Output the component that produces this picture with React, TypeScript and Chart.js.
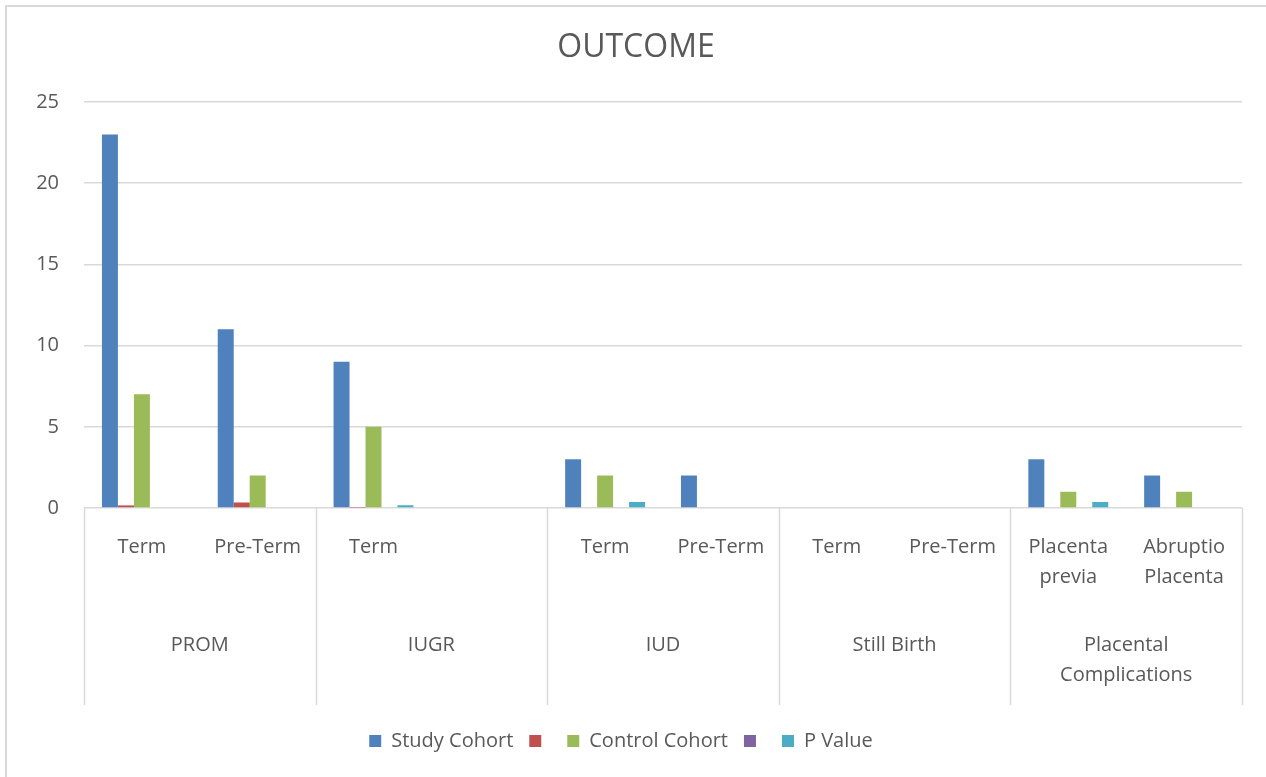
import React, { useEffect, useRef } from "react";
import { Chart, registerables } from "chart.js";

Chart.register(...registerables);

// Sub-categories along the x axis (two per outcome group)
const subCategories: (string | string[])[] = [
  "Term",
  "Pre-Term",
  "Term",
  "",
  "Term",
  "Pre-Term",
  "Term",
  "Pre-Term",
  ["Placenta", "previa"],
  ["Abruptio", "Placenta"],
];

// Outcome groups, each spanning two sub-categories
const groups: (string | string[])[] = [
  "PROM",
  "IUGR",
  "IUD",
  "Still Birth",
  ["Placental", "Complications"],
];

const studyCohort = [23, 11, 9, null, 3, 2, 0, 0, 3, 2];
const unnamedRed = [0.16, 0.34, 0.02, null, 0, 0, 0, 0, 0, 0];
const controlCohort = [7, 2, 5, null, 2, 0, 0, 0, 1, 1];
const unnamedPurple = [0, 0, 0, null, 0, 0, 0, 0, 0, 0];
const pValue = [0, 0, 0.17, null, 0.37, 0, 0, 0, 0.37, 0];

const yTicks = { min: 0, max: 25, step: 5 };
const chartTitle = "OUTCOME";

const TEXT = "#595959";
const GRID = "#d9d9d9";
const FONT = "'Open Sans', sans-serif";

// Outer frame, centred title and the vertical separators between outcome groups
const framePlugin = {
  id: "frameAndSeparators",
  afterDraw(chart: Chart) {
    const { ctx, chartArea } = chart;
    const x = chart.scales.x;
    ctx.save();
    ctx.strokeStyle = GRID;
    ctx.lineWidth = 2;
    ctx.strokeRect(6, 6, chart.width + 20, chart.height + 20);

    // title centred on the framed area
    ctx.fillStyle = TEXT;
    ctx.font = `32px ${FONT}`;
    ctx.textAlign = "center";
    ctx.textBaseline = "middle";
    ctx.fillText(chartTitle, (6 + chart.width) / 2, 48);

    ctx.lineWidth = 1.5;
    const bottom = 705;
    const n = subCategories.length;
    const bounds: number[] = [chartArea.left];
    for (let i = 2; i < n; i += 2) {
      bounds.push((x.getPixelForValue(i - 1) + x.getPixelForValue(i)) / 2);
    }
    bounds.push(chartArea.right);
    for (const bx of bounds) {
      const px = Math.round(bx) + 0.5;
      ctx.beginPath();
      ctx.moveTo(px, chartArea.bottom);
      ctx.lineTo(px, bottom);
      ctx.stroke();
    }
    ctx.restore();
  },
};

export default function App() {
  const canvasRef = useRef<HTMLCanvasElement | null>(null);

  useEffect(() => {
    if (!canvasRef.current) return;
    const barCommon = {
      categoryPercentage: 0.69,
      barPercentage: 1,
      borderWidth: 0,
    };
    const chart = new Chart(canvasRef.current, {
      type: "bar",
      data: {
        labels: subCategories,
        datasets: [
          { label: "Study Cohort", data: studyCohort, backgroundColor: "#4F81BD", ...barCommon },
          { label: "", data: unnamedRed, backgroundColor: "#C0504D", ...barCommon },
          { label: "Control Cohort", data: controlCohort, backgroundColor: "#9BBB59", ...barCommon },
          { label: "", data: unnamedPurple, backgroundColor: "#8064A2", ...barCommon },
          { label: "P Value", data: pValue, backgroundColor: "#4BACC6", ...barCommon },
        ],
      },
      options: {
        responsive: false,
        animation: false,
        layout: { padding: { left: 0, right: 24, top: 102, bottom: 16 } },
        plugins: {
          title: { display: false },
          legend: {
            position: "bottom",
            labels: {
              boxWidth: 12,
              boxHeight: 12,
              padding: 16,
              color: TEXT,
              font: { family: FONT, size: 20 },
            },
          },
          tooltip: { enabled: false },
        },
        scales: {
          x: {
            type: "category",
            position: "bottom",
            offset: true,
            grid: { display: false, drawTicks: false },
            border: { display: false },
            ticks: {
              color: TEXT,
              padding: 24,
              maxRotation: 0,
              autoSkip: false,
              font: { family: FONT, size: 20, lineHeight: 1.5 },
            },
            afterFit: (s: any) => {
              s.height = 100;
            },
          },
          x2: {
            type: "category",
            position: "bottom",
            labels: groups as any,
            offset: true,
            grid: { display: false, drawTicks: false },
            border: { display: false },
            ticks: {
              color: TEXT,
              padding: 22,
              maxRotation: 0,
              autoSkip: false,
              font: { family: FONT, size: 20, lineHeight: 1.5 },
            },
            afterFit: (s: any) => {
              s.height = 107;
            },
          },
          y: {
            min: yTicks.min,
            max: yTicks.max,
            grid: { color: GRID, lineWidth: 1.5, drawTicks: false },
            border: { display: false },
            ticks: {
              stepSize: yTicks.step,
              color: TEXT,
              padding: 25,
              font: { family: FONT, size: 20 },
            },
            afterFit: (s: any) => {
              s.width = 84;
            },
          },
        },
      },
      plugins: [framePlugin],
    });
    return () => chart.destroy();
  }, []);

  return (
    <div style={{ position: "fixed", left: 0, top: 0, width: 1266, height: 777, background: "#fff" }}>
      <canvas ref={canvasRef} width={1266} height={777} />
    </div>
  );
}
